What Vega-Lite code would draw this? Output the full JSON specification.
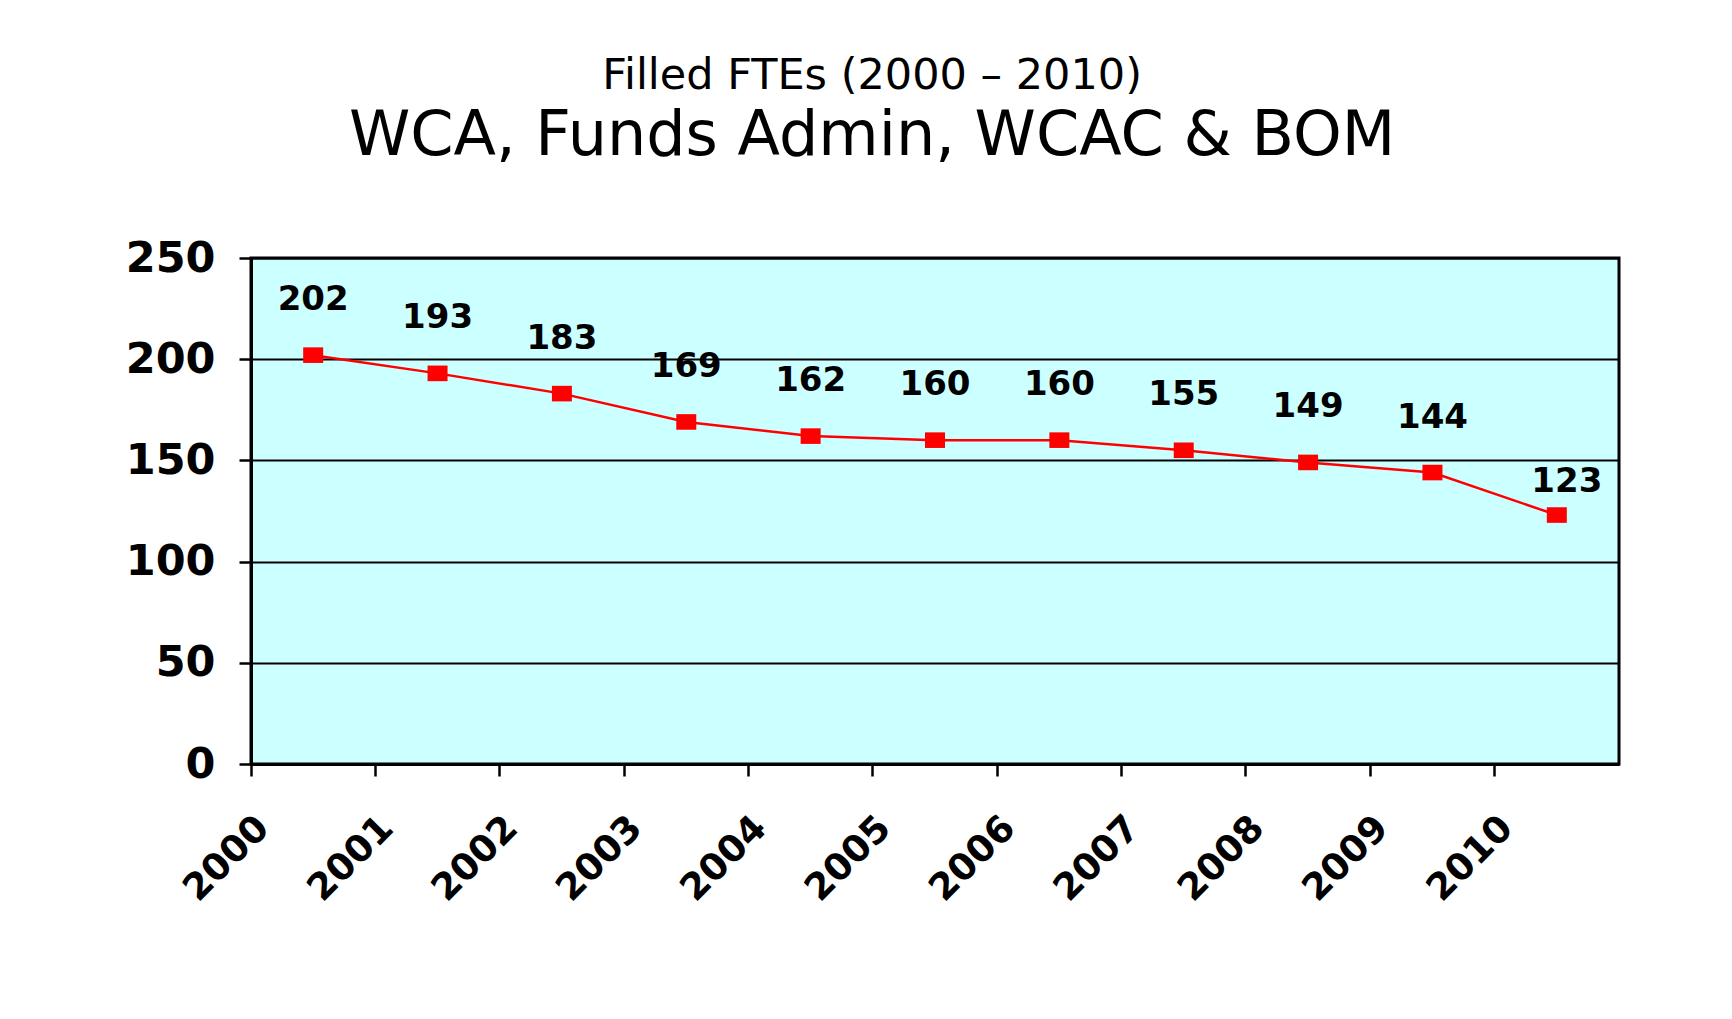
{
  "$schema": "https://vega.github.io/schema/vega-lite/v6.json",
  "width": 1368,
  "height": 506,
  "autosize": {"type": "none"},
  "padding": {"left": 251, "top": 258, "right": 113, "bottom": 255},
  "background": "white",
  "title": {
    "text": "Filled FTEs (2000 – 2010)",
    "subtitle": "WCA, Funds Admin, WCAC & BOM",
    "font": "DejaVu Sans",
    "fontSize": 43,
    "fontWeight": "normal",
    "color": "black",
    "subtitleFont": "DejaVu Sans",
    "subtitleFontSize": 62,
    "subtitleFontWeight": "normal",
    "subtitleColor": "black",
    "subtitlePadding": 8,
    "anchor": "middle",
    "frame": "bounds",
    "offset": 70
  },
  "data": {
    "values": [
      {"year": "2000", "fte": 202},
      {"year": "2001", "fte": 193},
      {"year": "2002", "fte": 183},
      {"year": "2003", "fte": 169},
      {"year": "2004", "fte": 162},
      {"year": "2005", "fte": 160},
      {"year": "2006", "fte": 160},
      {"year": "2007", "fte": 155},
      {"year": "2008", "fte": 149},
      {"year": "2009", "fte": 144},
      {"year": "2010", "fte": 123}
    ]
  },
  "encoding": {
    "x": {
      "field": "year",
      "type": "ordinal",
      "scale": {"type": "band", "paddingInner": 0, "paddingOuter": 0},
      "axis": {
        "title": null,
        "bandPosition": 0,
        "labelAngle": -45,
        "labelAlign": "right",
        "labelBaseline": "middle",
        "labelOffset": -50,
        "labelPadding": 46,
        "labelOverlap": false,
        "labelBound": false,
        "tickSize": 12,
        "tickColor": "black",
        "tickWidth": 2.5,
        "domainColor": "black",
        "domainWidth": 3,
        "grid": false,
        "labelFont": "DejaVu Sans",
        "labelFontWeight": "bold",
        "labelFontSize": 37,
        "labelColor": "black"
      }
    },
    "y": {
      "field": "fte",
      "type": "quantitative",
      "scale": {"domain": [0, 250], "nice": false},
      "axis": {
        "title": null,
        "values": [0, 50, 100, 150, 200, 250],
        "grid": true,
        "gridColor": "black",
        "gridWidth": 2,
        "gridOpacity": 1,
        "domainColor": "black",
        "domainWidth": 3,
        "tickColor": "black",
        "tickWidth": 2.5,
        "tickSize": 12,
        "labelFont": "DejaVu Sans",
        "labelFontWeight": "bold",
        "labelFontSize": 43,
        "labelColor": "black",
        "labelPadding": 24
      }
    }
  },
  "layer": [
    {"mark": {"type": "line", "color": "#FF0000", "strokeWidth": 2.5}},
    {"mark": {"type": "point", "shape": "M-1,-0.78L1,-0.78L1,0.78L-1,0.78Z", "filled": true, "color": "#FF0000", "size": 400, "opacity": 1}},
    {
      "transform": [{"filter": "datum.year != '2010'"}],
      "mark": {"type": "text", "dy": -55, "font": "DejaVu Sans", "fontWeight": "bold", "fontSize": 34, "color": "black"},
      "encoding": {"text": {"field": "fte", "type": "quantitative"}}
    },
    {
      "transform": [{"filter": "datum.year == '2010'"}],
      "mark": {"type": "text", "dy": -33, "dx": 10, "font": "DejaVu Sans", "fontWeight": "bold", "fontSize": 34, "color": "black"},
      "encoding": {"text": {"field": "fte", "type": "quantitative"}}
    }
  ],
  "config": {
    "view": {"fill": "#CCFFFF", "stroke": "black", "strokeWidth": 3}
  }
}
